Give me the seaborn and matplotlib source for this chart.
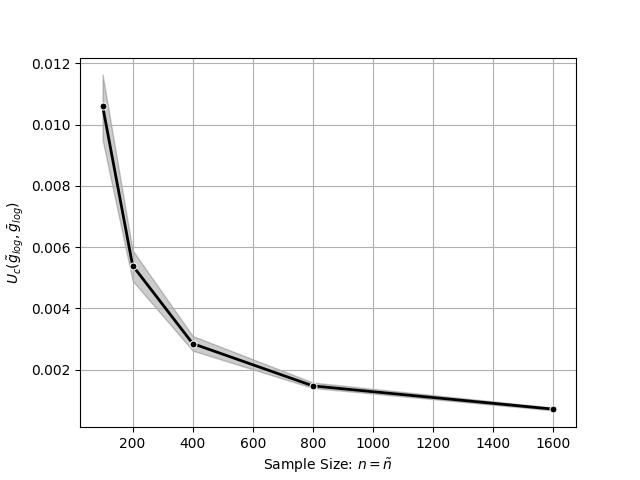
import matplotlib
matplotlib.use("Agg")
import matplotlib.pyplot as plt
import seaborn as sns
import pandas as pd

sample_size = [100, 200, 400, 800, 1600]
uc_mean = [0.01062, 0.00540, 0.00285, 0.00147, 0.00071]
uc_lower = [0.00950, 0.00490, 0.00262, 0.00140, 0.00067]
uc_upper = [0.01164, 0.00590, 0.00310, 0.00158, 0.00076]

df = pd.DataFrame({"n": sample_size, "uc": uc_mean})

fig, ax = plt.subplots(figsize=(6.4, 4.8), dpi=100)
ax.fill_between(sample_size, uc_lower, uc_upper, color="black", alpha=0.2)
sns.lineplot(data=df, x="n", y="uc", color="black", marker="o",
             markeredgecolor="white", markersize=5, linewidth=2, ax=ax)
ax.grid(True)
ax.set_xlabel(r"Sample Size: $n = \tilde{n}$")
ax.set_ylabel(r"$U_c(\tilde{g}_{log}, \bar{g}_{log})$")
fig.savefig("out.png", dpi=100)
